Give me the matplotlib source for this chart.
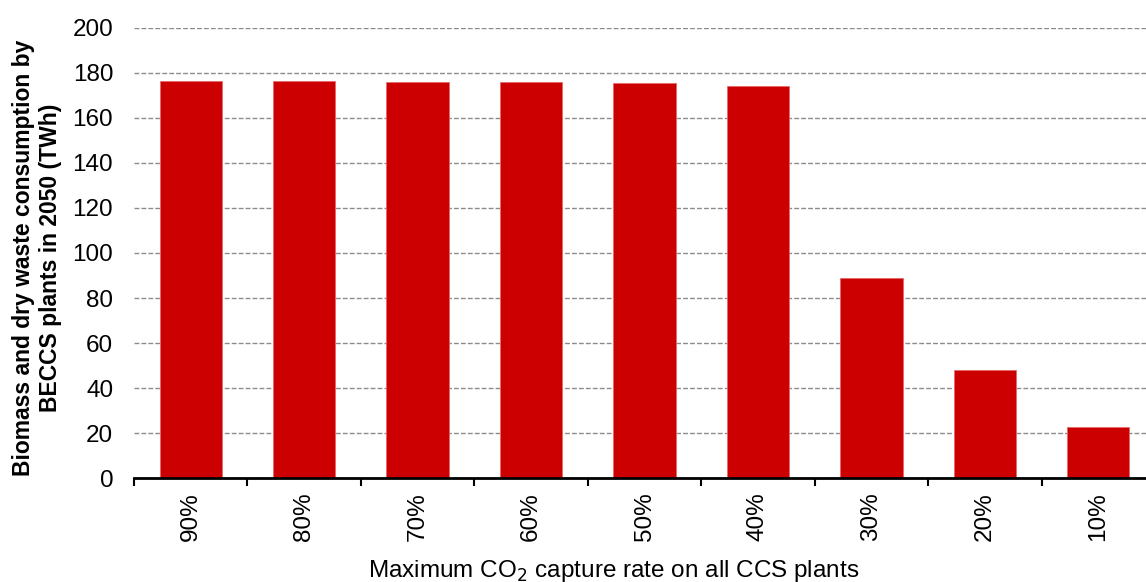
import numpy as np
import matplotlib
matplotlib.use("Agg")
import matplotlib.pyplot as plt

plt.rcParams['font.family'] = ['Liberation Sans', 'DejaVu Sans']

# data
capture_rate = ["90%", "80%", "70%", "60%", "50%", "40%", "30%", "20%", "10%"]
consumption = [176.2, 176.2, 176.0, 176.0, 175.3, 174.3, 88.8, 47.9, 22.9]
yticks = [0, 20, 40, 60, 80, 100, 120, 140, 160, 180, 200]

fig = plt.figure(figsize=(11.46, 5.82), dpi=100)
# the reference is cut off on the right, so the axes run past the figure edge
ax = fig.add_axes([134/1146, 103.7/582, 1021/1146, 450.6/582])

x = np.arange(len(capture_rate))
ax.bar(x, consumption, width=0.55, color="#CC0000", edgecolor="#E86A6A",
       linewidth=0.6, zorder=3)

ax.set_xlim(-0.5, len(capture_rate) - 0.5)
ax.set_ylim(0, 200)
ax.set_yticks(yticks)
ax.yaxis.grid(True, color="#8C8C8C", linestyle=(0, (3.5, 1.5)), linewidth=1.0, zorder=0)
ax.tick_params(axis="y", length=0, pad=15, labelsize=17.5)

# ticks between categories, labels at category centres
ax.set_xticks(np.arange(len(capture_rate) + 1) - 0.5)
ax.set_xticklabels([])
ax.set_xticks(x, minor=True)
ax.set_xticklabels(capture_rate, minor=True, rotation=90, fontsize=17.5)
ax.tick_params(axis="x", which="major", length=6, width=1.5, direction="out")
ax.tick_params(axis="x", which="minor", length=0, pad=10)

for s in ["left", "right", "top"]:
    ax.spines[s].set_visible(False)
ax.spines["bottom"].set_linewidth(2)
ax.spines["bottom"].set_zorder(4)

ax.set_xlabel("Maximum CO$_2$ capture rate on all CCS plants", fontsize=17.5)
ax.xaxis.set_label_coords(0.470, -0.177)
ax.set_ylabel("Biomass and dry waste consumption by\nBECCS plants in 2050 (TWh)",
              fontsize=16.5, fontweight="bold", linespacing=1.22)
ax.yaxis.set_label_coords(-0.0705, 0.49)

fig.savefig("out.png", dpi=100)
